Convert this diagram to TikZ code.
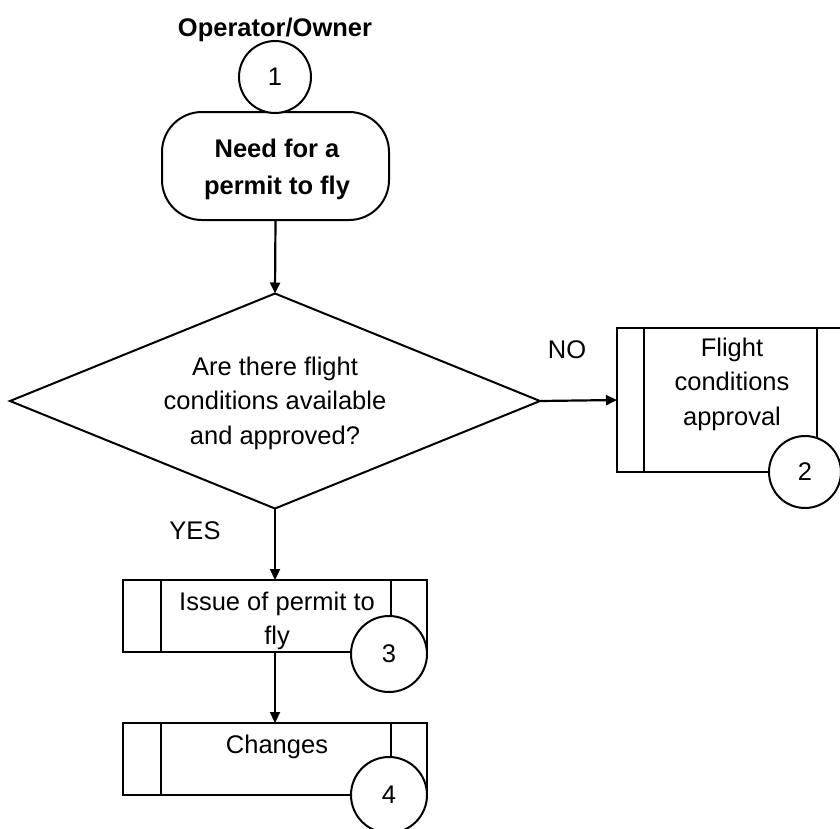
\documentclass[tikz,border=0pt]{standalone}
\usepackage{fontspec}
\setmainfont{Liberation Sans}
\usetikzlibrary{shapes.geometric,arrows.meta}
\begin{document}
\begin{tikzpicture}[x=1pt,y=-1pt,
  every node/.style={font=\fontsize{25.5}{34.5}\selectfont},
  shp/.style={draw,line width=2pt,inner sep=0pt,outer sep=0pt},
  num/.style={shp,circle,fill=white,minimum size=74pt},
  procbox/.style={shp,rectangle},
  inline/.style={line width=2pt},
  txt/.style={align=center,inner sep=0pt},
  conn/.style={line width=2.2pt,-{Triangle[length=11pt,width=10pt]}}]
\useasboundingbox (0,0) rectangle (840,828);
% start terminal
\node[shp,rectangle,rounded corners=40pt,minimum width=227pt,minimum height=108pt] (start) at (275.5,166) {};
\node[num,minimum size=72pt] (n1) at (275,77) {1};
\node[txt,font=\bfseries\fontsize{25.5}{37}\selectfont] (starttxt) at (277,169) {Need for a\\permit to fly};
% title
\node[txt,anchor=base,font=\bfseries\fontsize{25.5}{34.5}\selectfont] (title) at (275,36) {Operator/Owner};
% decision
\node[shp,diamond,minimum width=530pt,minimum height=215pt] (dec) at (275,401) {};
\node[txt] (dectxt) at (275,403) {Are there flight\\conditions available\\and approved?};
% flight conditions approval
\node[procbox,minimum width=227pt,minimum height=144pt] (fca) at (730.5,400) {};
\draw[inline] ([xshift=27pt]fca.north west) -- ([xshift=27pt]fca.south west);
\draw[inline] ([xshift=-27pt]fca.north east) -- ([xshift=-27pt]fca.south east);
\node[txt] (fcatxt) at (732,384) {Flight\\conditions\\approval};
\node[num,minimum size=72pt] (n2) at (805,472) {2};
% issue of permit
\node[procbox,minimum width=304pt,minimum height=72pt] (iss) at (275,616) {};
\draw[inline] ([xshift=37.5pt]iss.north west) -- ([xshift=37.5pt]iss.south west);
\draw[inline] ([xshift=-36pt]iss.north east) -- ([xshift=-36pt]iss.south east);
\node[txt] (isstxt) at (277,621) {Issue of permit to\\fly};
\node[num,minimum size=76pt] (n3) at (389,654) {3};
% changes
\node[procbox,minimum width=304pt,minimum height=72pt] (chg) at (275,759) {};
\draw[inline] ([xshift=37.5pt]chg.north west) -- ([xshift=37.5pt]chg.south west);
\draw[inline] ([xshift=-36pt]chg.north east) -- ([xshift=-36pt]chg.south east);
\node[txt,anchor=base] (chgtxt) at (277,753) {Changes};
\node[num,minimum size=76pt] (n4) at (389,795) {4};
% labels
\node[txt,anchor=base] (no) at (567,358) {NO};
\node[txt,anchor=base] (yes) at (195,539) {YES};
% connectors
\draw[conn] (start.south) -- (dec.north);
\draw[conn] (dec.east) -- (fca.west);
\draw[conn] (dec.south) -- (iss.north);
\draw[conn] (iss.south) -- (chg.north);
\end{tikzpicture}
\end{document}
